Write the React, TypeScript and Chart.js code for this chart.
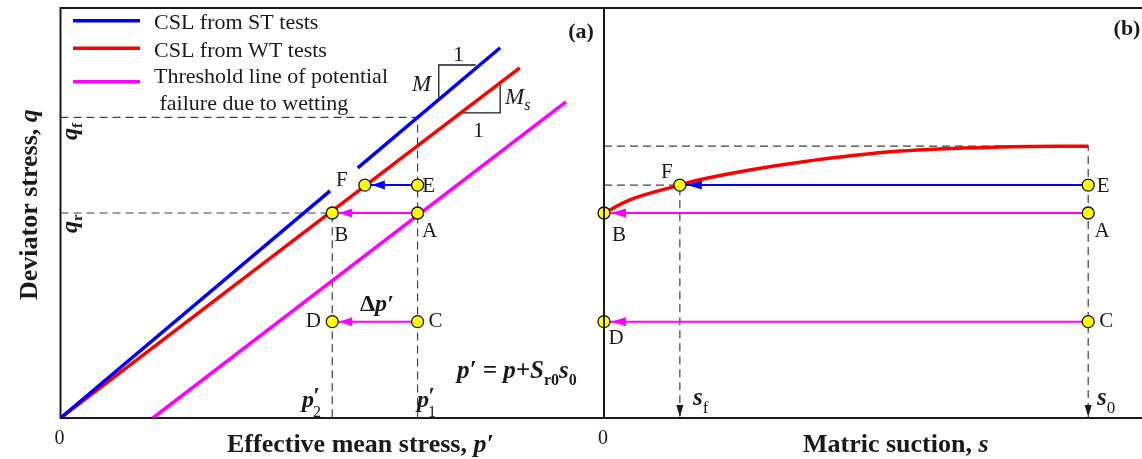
import React, { useEffect, useRef } from 'react';
import { Chart, registerables } from 'chart.js';

Chart.register(...registerables);

const SERIF = '"Liberation Serif", "Times New Roman", Times, serif';
const BLUE = '#0000ff';
const RED = '#ff0000';
const MAGENTA = '#ff00ff';
const YELLOW = '#ffff00';
const INK = '#1a1a1a';
const DASH = '#404040';

// ---------- Panel (a): deviator stress q versus effective mean stress p' ----------
const cslStP = [0, 4.96, 5.2, 5.47, 8.09];
const cslStQ = [0, 5.54, null, 6.1, 9.03];
const cslWtP = [0, 8.45];
const cslWtQ = [0, 8.54];
const thresholdP = [1.7, 9.3];
const thresholdQ = [0, 7.71];

const stateLabels = ['A', 'B', 'C', 'D', 'E', 'F'];
const stateP = [6.57, 5.0, 6.57, 5.0, 6.57, 5.6];
const stateQ = [5.0, 5.0, 2.35, 2.35, 5.68, 5.68];

const p1 = 6.57;
const p2 = 5.0;
const qf = 7.33;
const qr = 5.0;

const slopeMP = [6.96, 6.96, 7.64];
const slopeMQ = [7.8, 8.61, 8.61];
const slopeMsP = [7.37, 8.09, 8.09];
const slopeMsQ = [7.44, 7.44, 8.12];

// ---------- Panel (b): deviator stress q versus matric suction s ----------
const stateS = [9.0, 0, 9.0, 0, 9.0, 1.41];
const wtCurveS = [0, 0.48, 1.41, 1.78, 2.71, 3.64, 5.5, 7.36, 9.0];
const wtCurveQ = [5.0, 5.32, 5.68, 5.81, 6.05, 6.24, 6.51, 6.61, 6.63];
const sf = 1.41;
const s0 = 9.0;
const qs0 = 6.63;

// arrows between state points (indices into the state arrays)
const arrowFrom = [4, 0, 2]; // E, A, C
const arrowTo = [5, 1, 3]; // F, B, D

const legendLabels = ['CSL from ST tests', 'CSL from WT tests', 'Threshold line of potential', ' failure due to wetting'];
const xTickValues = [0];
const xTickLabels = ['0'];

// ---------- styles / layout (not data) ----------
const arrowColors = [BLUE, MAGENTA, MAGENTA];
const labelOffsetsA = [[12, 18], [9, 22], [18, 0], [-19, 0], [11, 1], [-23, -5]];
const labelOffsetsB = [[14, 18], [15, 22], [18, 0], [12, 17], [15, 1], [-13, -13]];

const F = (style: string, size: number) => `${style} ${size}px ${SERIF}`;

type Part = { t: string; font: string; dy?: number };

function drawParts(ctx: CanvasRenderingContext2D, x: number, y: number, parts: Part[]) {
  let cx = x;
  for (const p of parts) {
    ctx.font = p.font;
    ctx.fillText(p.t, cx, y + (p.dy || 0));
    cx += ctx.measureText(p.t).width;
  }
}

function xy(xs: (number | null)[], ys: (number | null)[]) {
  return xs.map((x, i) => ({ x: x as number, y: ys[i] as number }));
}

function arrowHead(ctx: CanvasRenderingContext2D, tx: number, ty: number, dx: number, dy: number, len: number, half: number, color: string) {
  const bx = tx - dx * len;
  const by = ty - dy * len;
  ctx.beginPath();
  ctx.moveTo(tx, ty);
  ctx.lineTo(bx - dy * half, by + dx * half);
  ctx.lineTo(bx + dy * half, by - dx * half);
  ctx.closePath();
  ctx.fillStyle = color;
  ctx.fill();
}

const lineDs = (label: string, data: any[], color: string, width: number, extra: any = {}) => ({
  label,
  data,
  showLine: true,
  borderColor: color,
  backgroundColor: color,
  borderWidth: width,
  pointRadius: 0,
  pointHoverRadius: 0,
  spanGaps: false,
  ...extra,
});

const markerDs = (xs: number[]) => ({
  label: 'states',
  data: xy(xs, stateQ),
  showLine: false,
  clip: false,
  pointRadius: 6,
  pointHoverRadius: 6,
  pointBackgroundColor: YELLOW,
  pointBorderColor: '#111',
  pointBorderWidth: 1.3,
});

const arrowDatasets = (xs: number[], width: number) =>
  arrowFrom.map((f, i) =>
    lineDs('arrow' + i, xy([xs[f], xs[arrowTo[i]]], [stateQ[f], stateQ[arrowTo[i]]]), arrowColors[i], width)
  );

function scaleOptions(yWidth: number) {
  return {
    x: {
      type: 'linear',
      min: 0,
      max: 10,
      grid: { display: false, drawTicks: false },
      border: { display: false },
      ticks: {
        font: { family: SERIF, size: 20 },
        color: INK,
        padding: 9,
        maxRotation: 0,
        autoSkip: false,
        align: 'inner',
        labelOffset: 4,
        callback: (_v: any, i: number) => xTickLabels[i] ?? '',
      },
      afterBuildTicks: (s: any) => {
        s.ticks = xTickValues.map((v) => ({ value: v }));
      },
      afterFit: (s: any) => {
        s.height = 41;
      },
    },
    y: {
      type: 'linear',
      min: 0,
      max: 10,
      grid: { display: false, drawTicks: false },
      border: { display: false },
      ticks: { display: false },
      afterFit: (s: any) => {
        s.width = yWidth;
      },
    },
  };
}

function drawStateLabels(ctx: CanvasRenderingContext2D, chart: any, xs: number[], offsets: number[][]) {
  const sx = chart.scales.x;
  const sy = chart.scales.y;
  ctx.font = F('', 21);
  ctx.fillStyle = INK;
  ctx.textAlign = 'center';
  ctx.textBaseline = 'middle';
  stateLabels.forEach((l, i) => {
    const px = sx.getPixelForValue(xs[i]) + offsets[i][0];
    const py = sy.getPixelForValue(stateQ[i]) + offsets[i][1];
    ctx.fillText(l, px, py);
  });
  ctx.textAlign = 'left';
  ctx.textBaseline = 'alphabetic';
}

function drawArrowHeads(ctx: CanvasRenderingContext2D, chart: any, xs: number[], len: number, half: number) {
  const sx = chart.scales.x;
  const sy = chart.scales.y;
  arrowFrom.forEach((f, i) => {
    const t = arrowTo[i];
    const x0 = sx.getPixelForValue(xs[f]);
    const y0 = sy.getPixelForValue(stateQ[f]);
    const x1 = sx.getPixelForValue(xs[t]);
    const y1 = sy.getPixelForValue(stateQ[t]);
    const d = Math.hypot(x1 - x0, y1 - y0) || 1;
    const dx = (x1 - x0) / d;
    const dy = (y1 - y0) / d;
    arrowHead(ctx, x1 - dx * 7, y1 - dy * 7, dx, dy, len, half, arrowColors[i]);
  });
}

const panelAPlugin = {
  id: 'panelA',
  beforeDatasetsDraw(chart: any) {
    const { ctx, chartArea: a } = chart;
    ctx.save();
    ctx.strokeStyle = INK;
    ctx.lineWidth = 2;
    ctx.strokeRect(a.left, a.top, a.right - a.left, a.bottom - a.top);
    ctx.restore();
  },
  afterDatasetsDraw(chart: any) {
    const { ctx } = chart;
    ctx.save();
    drawArrowHeads(ctx, chart, stateP, 13, 4.5);
    drawStateLabels(ctx, chart, stateP, labelOffsetsA);

    // legend
    const legColors = [BLUE, RED, MAGENTA];
    const legY = [20.7, 48.3, 81.7];
    legColors.forEach((c, i) => {
      ctx.beginPath();
      ctx.strokeStyle = c;
      ctx.lineWidth = 3.5;
      ctx.moveTo(73, legY[i]);
      ctx.lineTo(140, legY[i]);
      ctx.stroke();
    });
    ctx.fillStyle = INK;
    ctx.font = F('', 22);
    const textX = [154, 154, 154, 154];
    const textY = [29, 57, 83, 110];
    legendLabels.forEach((t, i) => ctx.fillText(t, textX[i], textY[i]));

    // panel tag
    ctx.font = F('bold', 22);
    ctx.textAlign = 'center';
    ctx.fillText('(a)', 581, 38);
    ctx.textAlign = 'left';

    // slope annotations
    ctx.font = F('italic', 23);
    ctx.fillText('M', 412, 91);
    ctx.font = F('', 22);
    ctx.fillText('1', 453, 61);
    ctx.fillText('1', 473, 137);
    drawParts(ctx, 505, 104, [
      { t: 'M', font: F('italic', 23) },
      { t: 's', font: F('italic', 16), dy: 6 },
    ]);

    // delta p'
    drawParts(ctx, 360, 311, [
      { t: '\u0394', font: F('bold', 24) },
      { t: 'p\u2032', font: F('italic bold', 24) },
    ]);

    // p' = p + Sr0 s0
    drawParts(ctx, 457, 378, [
      { t: 'p\u2032 = p+S', font: F('italic bold', 25) },
      { t: 'r0', font: F('bold', 16), dy: 7 },
      { t: 's', font: F('italic bold', 25) },
      { t: '0', font: F('bold', 16), dy: 7 },
    ]);

    // p'2, p'1
    const pLabel = (x: number, sub: string) => {
      ctx.font = F('italic bold', 24);
      const w = ctx.measureText('p').width;
      ctx.fillText('p', x, 407);
      ctx.fillText('\u2032', x + w - 1, 403);
      ctx.font = F('', 16);
      ctx.fillText(sub, x + w - 1, 417);
    };
    pLabel(302, '2');
    pLabel(417, '1');

    // q_f, q_r rotated
    const qLabel = (y: number, sub: string) => {
      ctx.save();
      ctx.translate(77, y);
      ctx.rotate(-Math.PI / 2);
      drawParts(ctx, 0, 0, [
        { t: 'q', font: F('italic bold', 24) },
        { t: sub, font: F('bold', 15), dy: 5 },
      ]);
      ctx.restore();
    };
    qLabel(140, 'f');
    qLabel(233, 'r');

    // axis titles
    drawParts(ctx, 227, 452, [
      { t: 'Effective mean stress, ', font: F('bold', 26) },
      { t: 'p\u2032', font: F('italic bold', 26) },
    ]);
    ctx.save();
    ctx.translate(37, 300);
    ctx.rotate(-Math.PI / 2);
    drawParts(ctx, 0, 0, [
      { t: 'Deviator stress, ', font: F('bold', 26) },
      { t: 'q', font: F('italic bold', 26) },
    ]);
    ctx.restore();
    ctx.restore();
  },
};

const panelBPlugin = {
  id: 'panelB',
  beforeDatasetsDraw(chart: any) {
    const { ctx, chartArea: a } = chart;
    ctx.save();
    ctx.strokeStyle = INK;
    ctx.lineWidth = 2;
    ctx.beginPath();
    ctx.moveTo(a.right + 2, a.top);
    ctx.lineTo(a.left, a.top);
    ctx.lineTo(a.left, a.bottom);
    ctx.lineTo(a.right + 2, a.bottom);
    ctx.stroke();
    ctx.restore();
  },
  afterDatasetsDraw(chart: any) {
    const { ctx } = chart;
    const sx = chart.scales.x;
    const sy = chart.scales.y;
    ctx.save();
    drawArrowHeads(ctx, chart, stateS, 15, 4.5);
    // suction arrows pointing down to the axis
    [sf, s0].forEach((s) => {
      arrowHead(ctx, sx.getPixelForValue(s), sy.getPixelForValue(0) - 1, 0, 1, 12, 3.5, INK);
    });
    drawStateLabels(ctx, chart, stateS, labelOffsetsB);
    ctx.fillStyle = INK;
    ctx.font = F('bold', 22);
    ctx.textAlign = 'center';
    ctx.fillText('(b)', 567, 35);
    ctx.textAlign = 'left';

    const sLabel = (x: number, sub: string) => {
      drawParts(ctx, x, 405, [
        { t: 's', font: F('italic bold', 25) },
        { t: sub, font: F('', 17), dy: 8 },
      ]);
    };
    sLabel(693 - 560, 'f');
    sLabel(1097 - 560, '0');

    drawParts(ctx, 803 - 560, 452, [
      { t: 'Matric suction, ', font: F('bold', 26) },
      { t: 's', font: F('italic bold', 26) },
    ]);
    ctx.restore();
  },
};

function panelAConfig(): any {
  return {
    type: 'scatter',
    data: {
      datasets: [
        markerDs(stateP),
        ...arrowDatasets(stateP, 2),
        lineDs('CSL from ST tests', xy(cslStP, cslStQ), BLUE, 3.5),
        lineDs('CSL from WT tests', xy(cslWtP, cslWtQ), RED, 3.5),
        lineDs('Threshold line', xy(thresholdP, thresholdQ), MAGENTA, 3.5),
        lineDs('slope M', xy(slopeMP, slopeMQ), INK, 1.3),
        lineDs('slope Ms', xy(slopeMsP, slopeMsQ), INK, 1.3),
        lineDs('q_f guide', xy([0, p1, p1], [qf, qf, 0]), DASH, 1.2, { borderDash: [8, 5] }),
        lineDs('q_r guide', xy([0, p2, p2], [qr, qr, 0]), DASH, 1.2, { borderDash: [8, 5] }),
      ],
    },
    options: {
      animation: false,
      responsive: false,
      events: [],
      layout: { autoPadding: false, padding: { top: 8, right: 2, left: 0, bottom: 0 } },
      plugins: { legend: { display: false }, tooltip: { enabled: false } },
      scales: scaleOptions(60.5),
    },
    plugins: [panelAPlugin],
  };
}

function panelBConfig(): any {
  return {
    type: 'scatter',
    data: {
      datasets: [
        markerDs(stateS),
        ...arrowDatasets(stateS, 2),
        lineDs('WT failure curve', xy(wtCurveS, wtCurveQ), RED, 3.5, { tension: 0.4, cubicInterpolationMode: 'monotone' }),
        lineDs('q at s0 guide', xy([0, s0, s0], [qs0, qs0, 0]), DASH, 1.2, { borderDash: [8, 5] }),
        lineDs('F guide', xy([0, sf, sf], [stateQ[5], stateQ[5], 0]), DASH, 1.2, { borderDash: [8, 5] }),
      ],
    },
    options: {
      animation: false,
      responsive: false,
      events: [],
      layout: { autoPadding: false, padding: { top: 8, right: 0, left: 0, bottom: 0 } },
      plugins: { legend: { display: false }, tooltip: { enabled: false } },
      scales: scaleOptions(44),
    },
    plugins: [panelBPlugin],
  };
}

export default function App() {
  const leftRef = useRef<HTMLCanvasElement>(null);
  const rightRef = useRef<HTMLCanvasElement>(null);
  useEffect(() => {
    const prev = document.body.style.margin;
    document.body.style.margin = '0';
    const c1 = new Chart(leftRef.current as HTMLCanvasElement, panelAConfig());
    const c2 = new Chart(rightRef.current as HTMLCanvasElement, panelBConfig());
    return () => {
      c1.destroy();
      c2.destroy();
      document.body.style.margin = prev;
    };
  }, []);
  return (
    <div style={{ position: 'fixed', left: 0, top: 0, width: 1142, height: 459, overflow: 'hidden', background: '#fff' }}>
      <canvas ref={rightRef} width={582} height={459} style={{ position: 'absolute', left: 560, top: 0 }} />
      <canvas ref={leftRef} width={606} height={459} style={{ position: 'absolute', left: 0, top: 0 }} />
    </div>
  );
}
